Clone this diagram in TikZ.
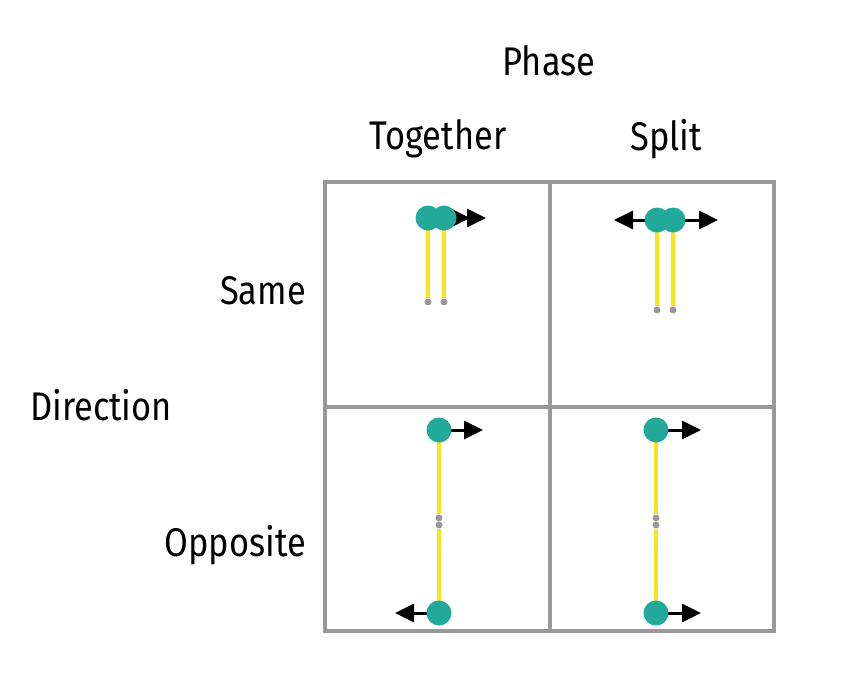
\documentclass[tikz,border=0pt]{standalone}
\usepackage{fontspec}
\setmainfont[FakeStretch=0.86]{Fira Sans}
\usetikzlibrary{arrows.meta}
\definecolor{teal1}{HTML}{22A99A}
\definecolor{yel}{HTML}{F6E61B}
\definecolor{gr}{HTML}{999999}
\tikzset{
  bob/.style={circle,fill=teal1,inner sep=0pt,minimum size=25pt},
  pivot/.style={circle,fill=gr,inner sep=0pt,minimum size=7pt},
  rod/.style={draw=yel,line width=4pt},
  arr/.style={draw=black,line width=3pt,-{Triangle[length=19pt,width=18pt]}},
  grid/.style={draw=gr,line width=3.5pt},
  lbl/.style={font=\fontsize{40}{44}\selectfont,inner sep=0pt}
}
\begin{document}
\begin{tikzpicture}[x=1pt,y=-1pt]
\useasboundingbox (0,0) rectangle (857,694);
% grid
\draw[grid] (325,182) rectangle (774,631);
\draw[grid] (550,182) -- (550,631);
\draw[grid] (325,407) -- (774,407);
% labels
\node[lbl] (phase) at (549,61) {Phase};
\node[lbl] (tog) at (438,139) {Together};
\node[lbl] (spl) at (666,139) {Split};
\node[lbl,anchor=east] (same) at (306,291) {Same};
\node[lbl,anchor=west] (dir) at (30,405) {Direction};
\node[lbl,anchor=east] (opp) at (306,545) {Opposite};
% coordinates
\coordinate (a1) at (428,218); \coordinate (a2) at (444,218);
\coordinate (ea1) at (470,218); \coordinate (ea2) at (486,218);
\coordinate (b1) at (657,220); \coordinate (b2) at (673,220);
\coordinate (eb1) at (614,220); \coordinate (eb2) at (718,220);
\coordinate (c1) at (439,430); \coordinate (c2) at (439,613);
\coordinate (ec1) at (483,430); \coordinate (ec2) at (395,613);
\coordinate (d1) at (656,430); \coordinate (d2) at (656,613);
\coordinate (ed1) at (701,430); \coordinate (ed2) at (701,613);
% arrows
\draw[arr] (a1) -- (ea1);
\draw[arr] (a2) -- (ea2);
\draw[arr] (b1) -- (eb1);
\draw[arr] (b2) -- (eb2);
\draw[arr] (c1) -- (ec1);
\draw[arr] (c2) -- (ec2);
\draw[arr] (d1) -- (ed1);
\draw[arr] (d2) -- (ed2);
% pivots
\node[pivot] (pa1) at (428,302) {};
\node[pivot] (pa2) at (444,302) {};
\node[pivot] (pb1) at (657,310) {};
\node[pivot] (pb2) at (673,310) {};
\node[pivot] (pc1) at (439,518) {};
\node[pivot] (pc2) at (439,525) {};
\node[pivot] (pd1) at (656,518) {};
\node[pivot] (pd2) at (656,525) {};
% rods
\draw[rod] (a1) -- (pa1);
\draw[rod] (a2) -- (pa2);
\draw[rod] (b1) -- (pb1);
\draw[rod] (b2) -- (pb2);
\draw[rod] (c1) -- (pc1);
\draw[rod] (c2) -- (pc2);
\draw[rod] (d1) -- (pd1);
\draw[rod] (d2) -- (pd2);
% bobs
\node[bob] (ba1) at (a1) {};
\node[bob] (ba2) at (a2) {};
\node[bob] (bb1) at (b1) {};
\node[bob] (bb2) at (b2) {};
\node[bob] (bc1) at (c1) {};
\node[bob] (bc2) at (c2) {};
\node[bob] (bd1) at (d1) {};
\node[bob] (bd2) at (d2) {};
\end{tikzpicture}
\end{document}
